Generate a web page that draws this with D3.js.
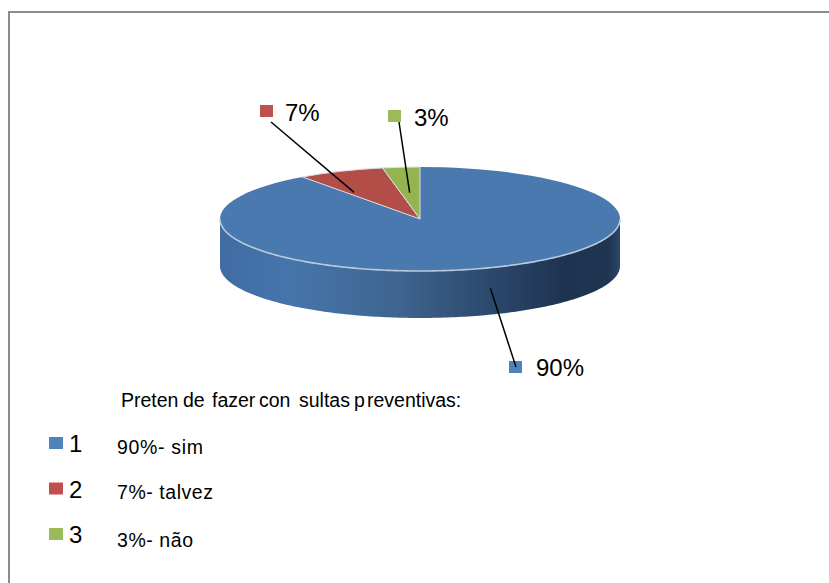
<!DOCTYPE html>
<html>
<head>
<meta charset="utf-8">
<script src="https://cdnjs.cloudflare.com/ajax/libs/d3/7.8.5/d3.min.js"></script>
<style>
html,body{margin:0;padding:0;background:#fff}
svg{display:block}
text{font-family:"Liberation Sans",Arial,sans-serif;fill:#000}
</style>
</head>
<body>
<svg id="chart" width="829" height="583"></svg>
<script>
// Survey answers, in percent
const categories = ["1", "2", "3"];
const values = [90, 7, 3];
const percentLabels = ["90%", "7%", "3%"];
const answers = ["90%- sim", "7%- talvez", "3%- não"];
const titleParts = ["Preten", "de ", "fazer ", "con", "sultas ", "p", "reventivas:"];
const colors = ["#4a79b0", "#b34d48", "#94b44f"];
const legendColors = ["#4f81bd", "#c0504d", "#9bbb59"];

const svg = d3.select("#chart");
const cx = 420, cy = 219, rx = 200, ry = 52, depth = 47;

const defs = svg.append("defs");
const sideGradient = defs.append("linearGradient")
  .attr("id", "side").attr("gradientUnits", "userSpaceOnUse")
  .attr("x1", cx - rx).attr("x2", cx + rx).attr("y1", 0).attr("y2", 0);
[[0, "#3f6da3"], [0.18, "#4675ab"], [0.45, "#3e648f"], [0.7, "#2a4669"], [0.86, "#1e334f"], [0.97, "#1f3552"], [1, "#2a4768"]]
  .forEach(([o, c]) => sideGradient.append("stop").attr("offset", o).attr("stop-color", c));

// Frame: only the top and left edges are visible
const frame = svg.append("g").attr("stroke", "#8c8c8c").attr("stroke-width", 2);
frame.append("line").attr("x1", 8).attr("x2", 829).attr("y1", 12).attr("y2", 12);
frame.append("line").attr("x1", 9).attr("x2", 9).attr("y1", 12).attr("y2", 583);

// Slices run clockwise from 12 o'clock, with the largest first
const pie = d3.pie().sort(null).startAngle(0).endAngle(2 * Math.PI);
const slices = pie(values);

// Angle in the circle -> point on the flattened disc
const project = (a, reach = 1, drop = 0) =>
  [cx + reach * rx * Math.sin(a), cy - reach * ry * Math.cos(a) + drop];

// Rim of the disc, front half
const rimAngles = d3.range(Math.PI / 2, 3 * Math.PI / 2 + 0.001, Math.PI / 180);
const rimTop = rimAngles.map(a => project(a));
const rimBottom = rimAngles.slice().reverse().map(a => project(a, 1, depth));
svg.append("path")
  .attr("d", d3.line()(rimTop.concat(rimBottom)) + "Z")
  .attr("fill", "url(#side)");

// Top face: a circular arc squashed into the ellipse
const arc = d3.arc().innerRadius(0).outerRadius(rx);
svg.append("g")
  .attr("transform", `translate(${cx},${cy}) scale(1,${ry / rx})`)
  .selectAll("path").data(slices).join("path")
  .attr("d", arc)
  .attr("fill", (d, i) => colors[i])
  .attr("stroke", (d, i) => i === 0 ? "none" : "#d9dfe6")
  .attr("stroke-width", 1)
  .attr("vector-effect", "non-scaling-stroke");

// Pale highlight along the front edge of the disc
svg.append("path")
  .attr("d", d3.line()(rimTop))
  .attr("fill", "none").attr("stroke", "#b9c9de").attr("stroke-width", 1.6);

// Data labels; each leader ends at a point tied to its slice's middle angle
const labelLayout = [
  { key: [509, 361], text: [536, 376], from: [516, 367], reach: 1.14, drop: 13 },
  { key: [260, 105], text: [285, 121], from: [271, 122], reach: 0.83, drop: 13 },
  { key: [388, 110], text: [414, 126], from: [399, 122], reach: 0.55, drop: 2 }
];
const midAngle = s => (s.startAngle + s.endAngle) / 2;
const labels = svg.append("g").selectAll("g").data(labelLayout).join("g");
labels.append("rect")
  .attr("x", d => d.key[0]).attr("y", d => d.key[1])
  .attr("width", 13).attr("height", 12)
  .attr("fill", (d, i) => legendColors[i]);
labels.append("line")
  .attr("x1", d => d.from[0]).attr("y1", d => d.from[1])
  .attr("x2", (d, i) => project(midAngle(slices[i]), d.reach, d.drop)[0])
  .attr("y2", (d, i) => project(midAngle(slices[i]), d.reach, d.drop)[1])
  .attr("stroke", "#000").attr("stroke-width", 1.5);
labels.append("text")
  .attr("x", d => d.text[0]).attr("y", d => d.text[1])
  .attr("font-size", 24)
  .text((d, i) => percentLabels[i]);

// Title, set in runs with the uneven spacing of the original
const titleX = [121, 183, 212, 259, 299, 354, 367];
svg.append("text").attr("y", 407).attr("font-size", 19.5)
  .selectAll("tspan").data(titleParts).join("tspan")
  .attr("x", (d, i) => titleX[i])
  .text(d => d);

// Legend
const keyY = d3.scalePoint().domain(categories).range([437, 528]);
const answerWidths = [86, 96, 76];
const answerBaselines = [454, 499, 547];
const legend = svg.append("g").selectAll("g").data(categories).join("g");
legend.append("rect")
  .attr("x", 49).attr("y", d => keyY(d))
  .attr("width", 14).attr("height", 12)
  .attr("fill", (d, i) => legendColors[i]);
legend.append("text")
  .attr("x", 69).attr("y", d => keyY(d) + 15)
  .attr("font-size", 24).text(d => d);
legend.append("text")
  .attr("x", 117).attr("y", (d, i) => answerBaselines[i])
  .attr("font-size", 19.5)
  .attr("textLength", (d, i) => answerWidths[i]).attr("lengthAdjust", "spacing")
  .text((d, i) => answers[i]);
</script>
</body>
</html>
